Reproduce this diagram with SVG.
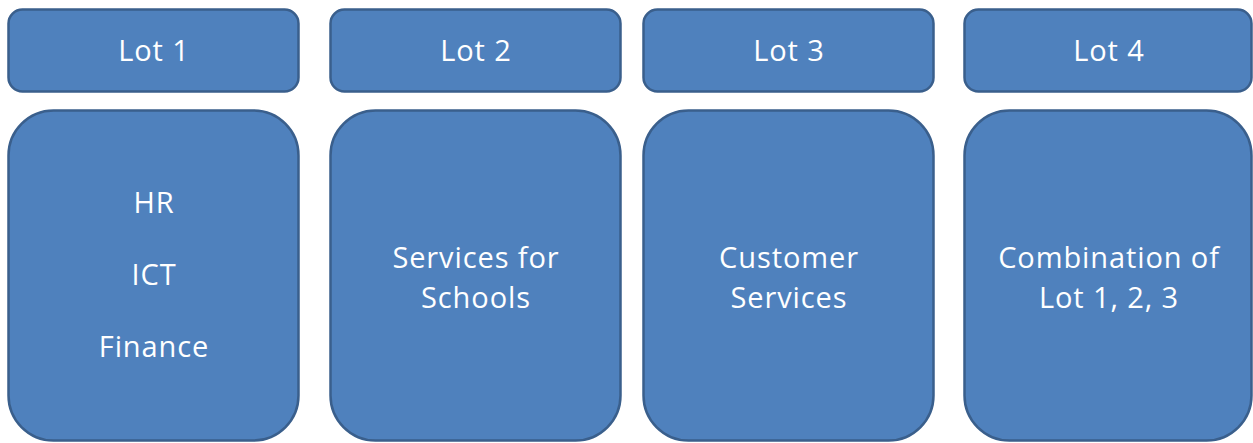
<svg xmlns="http://www.w3.org/2000/svg" width="1253" height="443" viewBox="0 0 1253 443">
  <style>
    .box { fill: #4F81BD; stroke: #3A5F8C; stroke-width: 2.5; }
    .lbl { fill: #FFFFFF; font-family: "Open Sans", "Liberation Sans", sans-serif; font-size: 29px; letter-spacing: 0.9px; text-anchor: middle; }
  </style>
  <rect width="1253" height="443" fill="#FFFFFF"/>

  <!-- Lot headers -->
  <g id="lot1-header">
    <rect class="box" x="8.5" y="9.5" width="290" height="82" rx="14"/>
    <text class="lbl" x="154" y="61">Lot 1</text>
  </g>
  <g id="lot2-header">
    <rect class="box" x="330.5" y="9.5" width="290" height="82" rx="14"/>
    <text class="lbl" x="476" y="61">Lot 2</text>
  </g>
  <g id="lot3-header">
    <rect class="box" x="643.5" y="9.5" width="290" height="82" rx="14"/>
    <text class="lbl" x="789" y="61">Lot 3</text>
  </g>
  <g id="lot4-header">
    <rect class="box" x="964.5" y="9.5" width="287" height="82" rx="14"/>
    <text class="lbl" x="1109" y="61">Lot 4</text>
  </g>

  <!-- Lot contents -->
  <g id="lot1-body">
    <rect class="box" x="8.5" y="110.5" width="290" height="330" rx="45"/>
    <text class="lbl" x="154" y="213">HR</text>
    <text class="lbl" x="154" y="285">ICT</text>
    <text class="lbl" x="154" y="357">Finance</text>
  </g>
  <g id="lot2-body">
    <rect class="box" x="330.5" y="110.5" width="290" height="330" rx="45"/>
    <text class="lbl" x="476" y="268">Services for</text>
    <text class="lbl" x="476" y="308">Schools</text>
  </g>
  <g id="lot3-body">
    <rect class="box" x="643.5" y="110.5" width="290" height="330" rx="45"/>
    <text class="lbl" x="789" y="268">Customer</text>
    <text class="lbl" x="789" y="308">Services</text>
  </g>
  <g id="lot4-body">
    <rect class="box" x="964.5" y="110.5" width="287" height="330" rx="45"/>
    <text class="lbl" x="1109" y="268">Combination of</text>
    <text class="lbl" x="1109" y="308">Lot 1, 2, 3</text>
  </g>
</svg>
